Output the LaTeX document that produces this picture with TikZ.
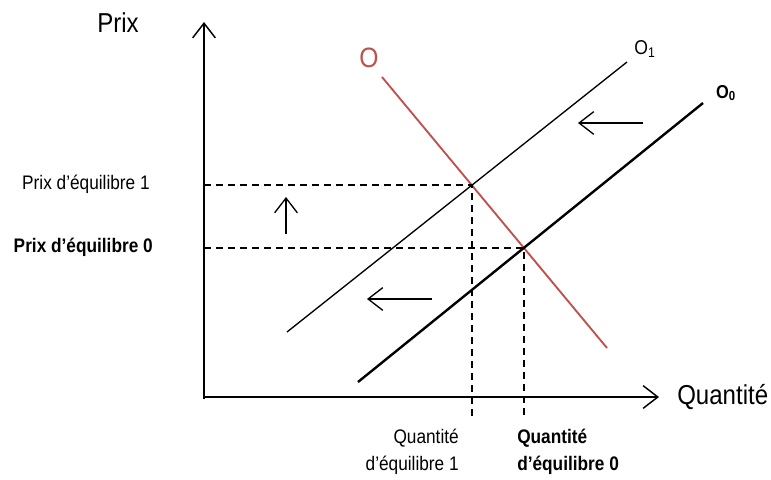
\documentclass[tikz,border=0pt]{standalone}
\usepackage{fontspec}
\setmainfont{Liberation Sans}[FakeStretch=0.88]
\usetikzlibrary{arrows.meta,positioning}
\definecolor{demandred}{RGB}{192,80,77}
\tikzset{
  axisarr/.style={line width=1.3pt,-{Straight Barb[length=11pt,width=17pt,line width=1.1pt]}},
  shiftarr/.style={line width=1pt,-{Straight Barb[length=11pt,width=17pt,line width=1pt]}},
  guide/.style={line width=1.2pt,dash pattern=on 5pt off 4pt},
  supply0/.style={line width=1.8pt},
  supply1/.style={line width=1pt},
  demand/.style={line width=1.4pt,color=demandred},
  biglbl/.style={font=\fontsize{20.5}{22}\selectfont,inner sep=0pt},
  lbl/.style={font=\fontsize{14.7}{20}\selectfont,inner sep=0pt},
  boldlbl/.style={font=\fontsize{14.7}{20}\selectfont\bfseries,inner sep=0pt}
}

\begin{document}
\begin{tikzpicture}[x=0.75pt,y=-0.75pt]
  \useasboundingbox (0,0) rectangle (771,479);

  %% Axes
  \coordinate (orig) at (204,397);
  \coordinate (ybot) at (204,399);
  \coordinate (ytop) at (204,22);
  \coordinate (xend) at (659,397);
  \draw[axisarr] (ybot) -- (ytop);
  \draw[axisarr] (orig) -- (xend);
  \node[biglbl] (prix) at (118,23) {Prix};
  \node[biglbl,anchor=west] (quant) at (677,397) {Quantité};

  %% Curves
  \coordinate (dA) at (382,77);
  \coordinate (dB) at (607,348);
  \coordinate (oneA) at (287,332);
  \coordinate (oneB) at (627,62);
  \coordinate (zeroA) at (358,382);
  \coordinate (zeroB) at (703,103);
  \draw[demand] (dA) -- (dB);
  \draw[supply1] (oneA) -- (oneB);
  \draw[supply0] (zeroA) -- (zeroB);
  \node[font=\fontsize{21}{22}\selectfont,text=demandred,inner sep=0pt] (dlbl) at (369,58) {O};
  \node[font=\fontsize{15}{16}\selectfont,inner sep=0pt] (olbl1) at (645,49) {O\textsubscript{1}};
  \node[font=\fontsize{14}{16}\selectfont\bfseries,inner sep=0pt] (olbl0) at (726,93) {O\textsubscript{0}};

  %% Equilibria
  \coordinate (eq1) at (intersection of dA--dB and oneA--oneB);
  \coordinate (eq0) at (intersection of dA--dB and zeroA--zeroB);
  \coordinate (guidebot) at (0,416);
  \draw[guide] (orig |- eq1) -- (eq1) -- (eq1 |- guidebot);
  \draw[guide] (orig |- eq0) -- (eq0) -- (eq0 |- guidebot);
  \node[lbl,anchor=east] (peq1) at (150,184) {Prix d’équilibre 1};
  \node[boldlbl,anchor=east] (peq0) at (153,247) {Prix d’équilibre 0};
  \node[lbl,anchor=north east,align=right] (qeq1) at (459,429) {Quantité\\d’équilibre 1};
  \node[boldlbl,anchor=north west,align=left] (qeq0) at (517,429) {Quantité\\d’équilibre 0};

  %% Shifts
  \coordinate (upA) at (286,234);
  \coordinate (upB) at (286,197);
  \coordinate (topA) at (643,123);
  \coordinate (topB) at (578,123);
  \coordinate (lowA) at (432,299);
  \coordinate (lowB) at (367,299);
  \draw[shiftarr] (upA) -- (upB);
  \draw[shiftarr] (topA) -- (topB);
  \draw[shiftarr] (lowA) -- (lowB);
\end{tikzpicture}
\end{document}
